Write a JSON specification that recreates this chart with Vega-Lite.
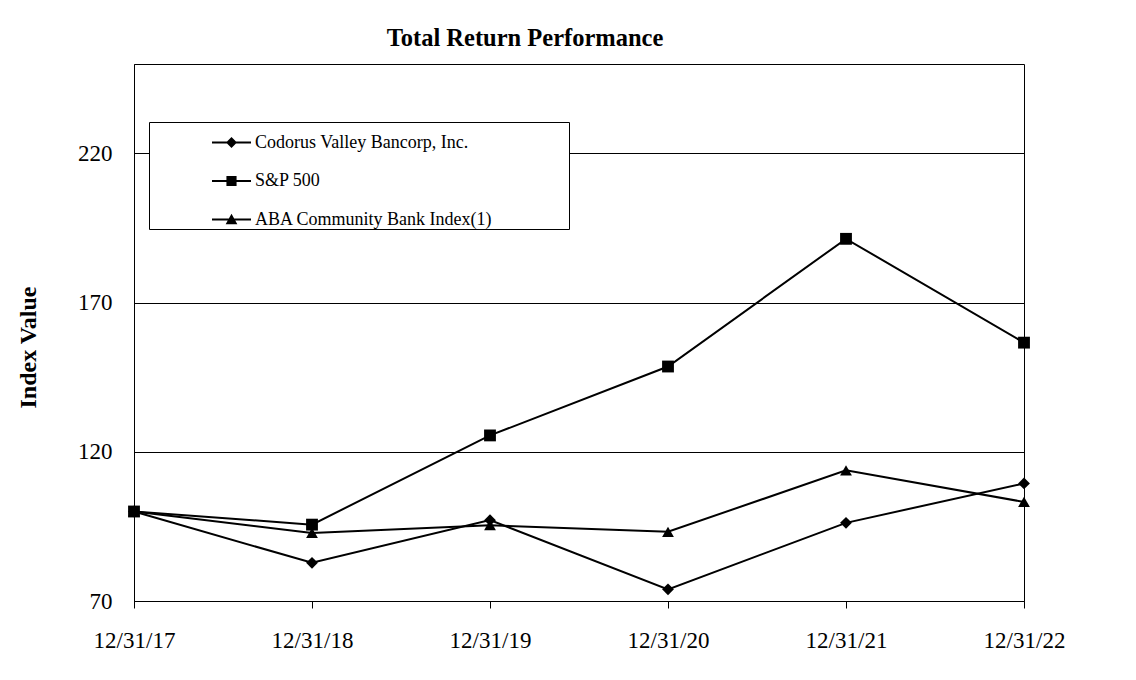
{
  "$schema": "https://vega.github.io/schema/vega-lite/v6.json",
  "width": 890,
  "height": 537,
  "autosize": {"type": "none"},
  "padding": {"left": 134, "top": 64, "right": 112, "bottom": 79},
  "background": "white",
  "config": {
    "font": "Liberation Serif",
    "view": {"stroke": "black", "strokeWidth": 1}
  },
  "title": {
    "text": "Total Return Performance",
    "font": "Liberation Serif",
    "fontSize": 24.5,
    "fontWeight": "bold",
    "color": "black",
    "anchor": "middle",
    "dx": -54,
    "offset": 13
  },
  "data": {
    "values": [
      {"date": "12/31/17", "series": "Codorus Valley Bancorp, Inc.", "value": 100},
      {"date": "12/31/18", "series": "Codorus Valley Bancorp, Inc.", "value": 82.8},
      {"date": "12/31/19", "series": "Codorus Valley Bancorp, Inc.", "value": 97.1},
      {"date": "12/31/20", "series": "Codorus Valley Bancorp, Inc.", "value": 73.9},
      {"date": "12/31/21", "series": "Codorus Valley Bancorp, Inc.", "value": 96.2},
      {"date": "12/31/22", "series": "Codorus Valley Bancorp, Inc.", "value": 109.4},
      {"date": "12/31/17", "series": "S&P 500", "value": 100},
      {"date": "12/31/18", "series": "S&P 500", "value": 95.6},
      {"date": "12/31/19", "series": "S&P 500", "value": 125.5},
      {"date": "12/31/20", "series": "S&P 500", "value": 148.6},
      {"date": "12/31/21", "series": "S&P 500", "value": 191.4},
      {"date": "12/31/22", "series": "S&P 500", "value": 156.6},
      {"date": "12/31/17", "series": "ABA Community Bank Index(1)", "value": 100},
      {"date": "12/31/18", "series": "ABA Community Bank Index(1)", "value": 92.8},
      {"date": "12/31/19", "series": "ABA Community Bank Index(1)", "value": 95.4},
      {"date": "12/31/20", "series": "ABA Community Bank Index(1)", "value": 93.2},
      {"date": "12/31/21", "series": "ABA Community Bank Index(1)", "value": 113.8},
      {"date": "12/31/22", "series": "ABA Community Bank Index(1)", "value": 103.2}
    ]
  },
  "encoding": {
    "x": {
      "field": "date",
      "type": "ordinal",
      "sort": null,
      "scale": {"type": "point", "padding": 0},
      "axis": {
        "title": null,
        "labelAngle": 0,
        "labelFont": "Liberation Serif",
        "labelFontSize": 23,
        "labelColor": "black",
        "labelPadding": 21,
        "domainColor": "black",
        "domainWidth": 1,
        "tickColor": "black",
        "tickSize": 7,
        "grid": false
      }
    },
    "y": {
      "field": "value",
      "type": "quantitative",
      "scale": {"domain": [70, 250], "nice": false, "zero": false},
      "axis": {
        "values": [70, 120, 170, 220],
        "title": "Index Value",
        "titleFont": "Liberation Serif",
        "titleFontSize": 24,
        "titleFontWeight": "bold",
        "titleColor": "black",
        "titleAngle": 270,
        "titleAlign": "center",
        "titleBaseline": "middle",
        "titleX": -106,
        "titleY": 283,
        "labelFont": "Liberation Serif",
        "labelFontSize": 23,
        "labelColor": "black",
        "labelPadding": 22,
        "ticks": false,
        "domainColor": "black",
        "domainWidth": 1,
        "grid": true,
        "gridColor": "black",
        "gridWidth": 1,
        "gridOpacity": 1
      }
    }
  },
  "layer": [
    {
      "mark": {"type": "line", "color": "black", "strokeWidth": 2},
      "encoding": {"detail": {"field": "series"}}
    },
    {
      "mark": {"type": "point", "filled": true, "color": "black", "opacity": 1, "size": 140},
      "encoding": {
        "shape": {
          "field": "series",
          "scale": {
            "domain": ["Codorus Valley Bancorp, Inc.", "S&P 500", "ABA Community Bank Index(1)"],
            "range": ["diamond", "square", "triangle-up"]
          },
          "legend": null
        }
      }
    },
    {
      "transform": [{"filter": "datum.value < 0"}],
      "mark": {"type": "point", "filled": true, "color": "black", "opacity": 1, "size": 1521},
      "encoding": {
        "shape": {
          "field": "series",
          "scale": {
            "domain": ["Codorus Valley Bancorp, Inc.", "S&P 500", "ABA Community Bank Index(1)"],
            "range": [
              "M-1,-0.05H1V0.05H-1ZM0,-0.28L0.28,0L0,0.28L-0.28,0Z",
              "M-1,-0.05H1V0.05H-1ZM-0.26,-0.26H0.26V0.26H-0.26Z",
              "M-1,-0.05H1V0.05H-1ZM0,-0.3L0.3,0.24H-0.3Z"
            ]
          },
          "legend": {
            "orient": "none",
            "legendX": 15,
            "legendY": 58,
            "title": " ",
            "titleOrient": "right",
            "titlePadding": 77,
            "symbolSize": 1521,
            "symbolOffset": 62,
            "labelOffset": 3,
            "labelLimit": 400,
            "labelFont": "Liberation Serif",
            "labelFontSize": 18,
            "labelColor": "black",
            "fillColor": "white",
            "strokeColor": "black",
            "padding": 0,
            "rowPadding": 8.5,
            "zindex": 1
          }
        }
      }
    }
  ],
  "resolve": {"scale": {"shape": "independent"}, "legend": {"shape": "independent"}}
}
